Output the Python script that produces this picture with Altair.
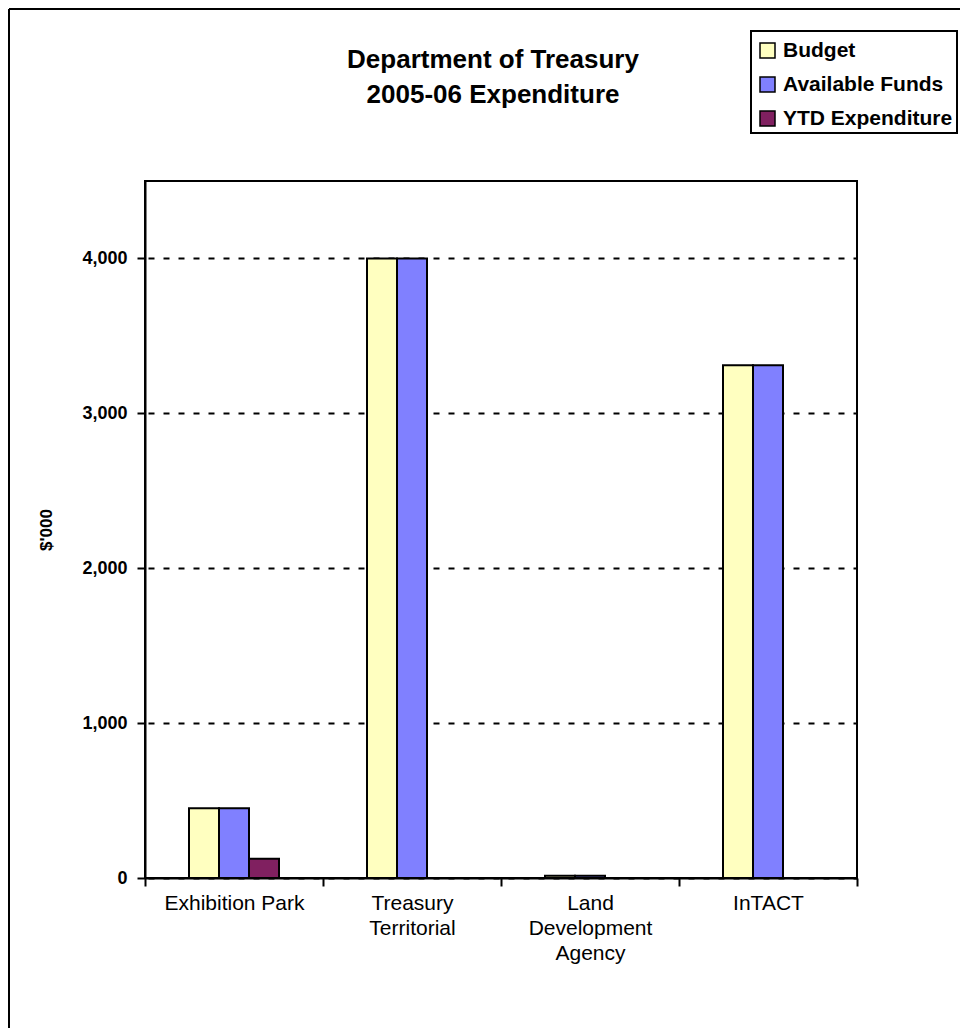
import altair as alt
import pandas as pd

categories = ["Exhibition Park", "Treasury Territorial", "Land Development Agency", "InTACT"]
series = ["Budget", "Available Funds", "YTD Expenditure"]
budget = [450, 4000, 15, 3310]
available = [450, 4000, 15, 3310]
ytd = [125, 0, 0, 0]
colors = ["#FFFFC0", "#8080FF", "#802060"]
y_ticks = [0, 1000, 2000, 3000, 4000]
title_lines = ["Department of Treasury", "2005-06 Expenditure"]

rows = []
for s, vals in zip(series, [budget, available, ytd]):
    for c, v in zip(categories, vals):
        rows.append({"category": c, "series": s, "value": v})
df = pd.DataFrame(rows)

FONT = "Liberation Sans"

bars = alt.Chart(df).mark_bar(stroke="black", strokeWidth=2).encode(
    x=alt.X(
        "category:N", sort=categories,
        scale=alt.Scale(paddingInner=0, paddingOuter=0),
        axis=alt.Axis(
            title=None, labelAngle=0,
            labelExpr="datum.value == 'Exhibition Park' ? datum.label : split(datum.label, ' ')",
            labelFontSize=21, labelFont=FONT, labelColor="black", labelLineHeight=25,
            labelPadding=6, labelLimit=0, tickBand="extent",
            tickSize=8, tickColor="black",
            tickWidth=2, domainColor="black", domainWidth=2, grid=False,
        ),
    ),
    xOffset=alt.XOffset("series:N", sort=series,
                        scale=alt.Scale(range=[44, 134], paddingInner=0, paddingOuter=0)),
    y=alt.Y(
        "value:Q",
        scale=alt.Scale(domain=[0, 4500], nice=False),
        axis=alt.Axis(
            values=y_ticks, labelExpr="format(datum.value, ',.0f')", title="$'000",
            titleFont=FONT, titleFontSize=17, titleFontWeight="bold", titleColor="black",
            titlePadding=26,
            labelFont=FONT, labelFontSize=18, labelFontWeight="bold", labelColor="black",
            labelPadding=10, tickSize=8, tickColor="black", tickWidth=2,
            domainColor="black", domainWidth=2,
            grid=True, gridColor="black", gridDash=[6, 9], gridDashOffset=-3, gridWidth=2,
        ),
    ),
    color=alt.Color(
        "series:N", sort=series,
        scale=alt.Scale(domain=series, range=colors),
        legend=alt.Legend(
            title=" ", titleFontSize=1, titlePadding=4,
            orient="none", legendX=606, legendY=-150,
            strokeColor="black", padding=4, fillColor="white",
            symbolType="square", symbolSize=225, symbolStrokeColor="black",
            symbolStrokeWidth=1.5, symbolOpacity=1, symbolOffset=2,
            labelFont=FONT, labelFontSize=21, labelFontWeight="bold", labelColor="black",
            labelOffset=5, rowPadding=12, labelLimit=0,
        ),
    ),
)

one = pd.DataFrame({"k": [0]})
frame_left = alt.Chart(one).mark_rule(color="black", strokeWidth=2).encode(
    x=alt.value(-136), y=alt.value(-172), y2=alt.value(847)
)
frame_top = alt.Chart(one).mark_rule(color="black", strokeWidth=2).encode(
    x=alt.value(-136), x2=alt.value(815), y=alt.value(-172)
)

chart = alt.layer(bars, frame_left, frame_top).properties(
    width=712, height=697,
    autosize=alt.AutoSizeParams(type="none"),
    padding={"left": 137, "top": 173, "right": 103, "bottom": 150},
    title=alt.Title(
        text=title_lines, font=FONT, fontSize=26, fontWeight="bold", color="black",
        anchor="middle", dx=-8, offset=-100, lineHeight=35,
    ),
).configure_view(stroke="black", strokeWidth=2).configure_legend(strokeWidth=2)

chart.save("out.html", embed_options={"renderer": "svg", "actions": False})
